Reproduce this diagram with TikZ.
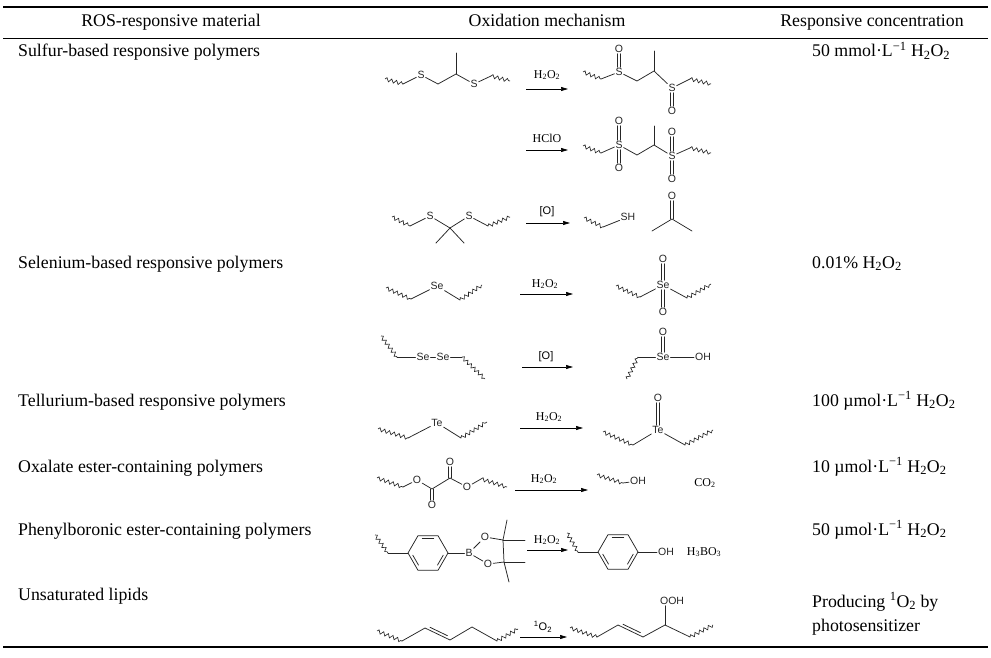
\documentclass[tikz,border=0pt]{standalone}
\usepackage{fontspec}
\setmainfont{Liberation Serif}
\newfontfamily\chemsf{Liberation Sans}
\usetikzlibrary{decorations.pathmorphing,arrows.meta,calc}
\newcommand\dblv[2]{\draw[bond] ([xshift=-1.3pt]#1) -- ([xshift=-1.3pt]#2); \draw[bond] ([xshift=1.3pt]#1) -- ([xshift=1.3pt]#2);}
\tikzset{
 tabtext/.style={font=\fontsize{17.8}{21}\selectfont, inner sep=0pt, anchor=base west},
 headtext/.style={font=\fontsize{17.8}{21}\selectfont, inner sep=0pt, anchor=base},
 bond/.style={line width=0.75pt, line cap=round, line join=round, black!85},
 wavy/.style={line width=0.65pt, black!85, decorate, decoration={snake, segment length=5pt, amplitude=1.8pt}},
 atom/.style={font=\chemsf\fontsize{10.5}{10.5}\selectfont, inner sep=0.9pt, text=black!85},
 reag/.style={font=\fontsize{12}{12}\selectfont, inner sep=0pt},
 reagsf/.style={font=\chemsf\fontsize{11}{11}\selectfont, inner sep=0pt},
 rxn/.style={line width=0.7pt, -{Triangle[length=7pt,width=4pt]}},
 thickrule/.style={line width=1.8pt},
 thinrule/.style={line width=0.9pt}
}
\begin{document}
\begin{tikzpicture}[x=1pt,y=-1pt]
\useasboundingbox[fill=white] (0,0) rectangle (991,658);
% rules
\coordinate (tl) at (3,7); \coordinate (tr) at (988,7);
\coordinate (ml) at (3,38); \coordinate (mr) at (988,38);
\coordinate (bl) at (3,647); \coordinate (br) at (988,647);
\draw[thickrule] (tl) -- (tr);
\draw[thinrule] (ml) -- (mr);
\draw[thickrule] (bl) -- (br);
% header
\node[headtext] (h1) at (171,27) {ROS-responsive material};
\node[headtext] (h2) at (547,27) {Oxidation mechanism};
\node[headtext] (h3) at (872,27) {Responsive concentration};
% left column
\node[tabtext] (m1) at (18,57) {Sulfur-based responsive polymers};
\node[tabtext] (m2) at (18,268) {Selenium-based responsive polymers};
\node[tabtext] (m3) at (18,406) {Tellurium-based responsive polymers};
\node[tabtext] (m4) at (18,472) {Oxalate ester-containing polymers};
\node[tabtext] (m5) at (18,535) {Phenylboronic ester-containing polymers};
\node[tabtext] (m6) at (18,600) {Unsaturated lipids};
% right column
\node[tabtext] (c1) at (812,57) {50 mmol·L\textsuperscript{−1} H\textsubscript{2}O\textsubscript{2}};
\node[tabtext] (c2) at (812,268) {0.01\% H\textsubscript{2}O\textsubscript{2}};
\node[tabtext] (c3) at (812,406) {100 µmol·L\textsuperscript{−1} H\textsubscript{2}O\textsubscript{2}};
\node[tabtext] (c4) at (812,472) {10 µmol·L\textsuperscript{−1} H\textsubscript{2}O\textsubscript{2}};
\node[tabtext] (c5) at (812,535) {50 µmol·L\textsuperscript{−1} H\textsubscript{2}O\textsubscript{2}};
\node[tabtext] (c6) at (812,607) {Producing \textsuperscript{1}O\textsubscript{2} by};
\node[tabtext] (c7) at (812,631) {photosensitizer};

% ===== reaction arrows and reagents =====
\coordinate (a1s) at (526,89);  \coordinate (a1e) at (568,89);
\coordinate (a2s) at (526,150); \coordinate (a2e) at (568,150);
\coordinate (a3s) at (526,223); \coordinate (a3e) at (570,223);
\coordinate (a4s) at (520,294); \coordinate (a4e) at (573,294);
\coordinate (a5s) at (522,367); \coordinate (a5e) at (573,367);
\coordinate (a6s) at (520,428); \coordinate (a6e) at (583,428);
\coordinate (a7s) at (515,490); \coordinate (a7e) at (588,490);
\coordinate (a8s) at (527,550); \coordinate (a8e) at (568,550);
\coordinate (a9s) at (520,637); \coordinate (a9e) at (567,637);
\foreach \i in {1,...,9} {\draw[rxn] (a\i s) -- (a\i e);}
\node[reag] (g1) at (547,75) {H\textsubscript{2}O\textsubscript{2}};
\node[reag] (g2) at (547,138) {HClO};
\node[reagsf] (g3) at (547,212) {[O]};
\node[reag] (g4) at (545,284) {H\textsubscript{2}O\textsubscript{2}};
\node[reagsf] (g5) at (546,357) {[O]};
\node[reag] (g6) at (549,417) {H\textsubscript{2}O\textsubscript{2}};
\node[reag] (g7) at (544,479) {H\textsubscript{2}O\textsubscript{2}};
\node[reag] (g8) at (547,540) {H\textsubscript{2}O\textsubscript{2}};
\node[reagsf] (g9) at (543,627) {\textsuperscript{1}O\textsubscript{2}};

% ===== Row 1: sulfide -> sulfoxide =====
\coordinate (r1w) at (385,79); \coordinate (r1a) at (403,84);
\node[atom] (r1s1) at (421,75) {S};
\coordinate (r1b) at (438,84); \coordinate (r1c) at (456,74); \coordinate (r1m) at (456,53);
\node[atom] (r1s2) at (474,84) {S};
\coordinate (r1d) at (491,76); \coordinate (r1e) at (510,81);
\draw[wavy] (r1w) -- (r1a);
\draw[bond] (r1a) -- (r1s1); \draw[bond] (r1s1) -- (r1b) -- (r1c) -- (r1s2); \draw[bond] (r1s2) -- (r1d);
\draw[bond] (r1c) -- (r1m);
\draw[wavy] (r1d) -- (r1e);

\coordinate (p1w) at (583,72); \coordinate (p1a) at (601,79);
\node[atom] (p1s1) at (619,72) {S};
\node[atom] (p1o1) at (619,49) {O};
\coordinate (p1b) at (637,81); \coordinate (p1c) at (654,71); \coordinate (p1m) at (654,51);
\node[atom] (p1s2) at (672,88) {S};
\node[atom] (p1o2) at (672,111) {O};
\coordinate (p1d) at (690,79); \coordinate (p1e) at (711,84);
\draw[wavy] (p1w) -- (p1a);
\draw[bond] (p1a) -- (p1s1); \draw[bond] (p1s1) -- (p1b) -- (p1c) -- (p1s2); \draw[bond] (p1s2) -- (p1d);
\draw[bond] (p1c) -- (p1m);
\draw[wavy] (p1d) -- (p1e);
\dblv{p1s1.north}{p1o1.south}
\dblv{p1s2.south}{p1o2.north}

% ===== Row 2: sulfone =====
\coordinate (p2w) at (583,146); \coordinate (p2a) at (601,153);
\node[atom] (p2s1) at (619,145) {S};
\node[atom] (p2o1) at (619,121) {O};
\node[atom] (p2o2) at (619,168) {O};
\coordinate (p2b) at (637,155); \coordinate (p2c) at (654,145); \coordinate (p2m) at (654,126);
\node[atom] (p2s2) at (672,156) {S};
\node[atom] (p2o3) at (672,132) {O};
\node[atom] (p2o4) at (672,179) {O};
\coordinate (p2d) at (690,148); \coordinate (p2e) at (711,153);
\draw[wavy] (p2w) -- (p2a);
\draw[bond] (p2a) -- (p2s1); \draw[bond] (p2s1) -- (p2b) -- (p2c) -- (p2s2); \draw[bond] (p2s2) -- (p2d);
\draw[bond] (p2c) -- (p2m);
\draw[wavy] (p2d) -- (p2e);
\dblv{p2s1.north}{p2o1.south}
\dblv{p2s1.south}{p2o2.north}
\dblv{p2s2.north}{p2o3.south}
\dblv{p2s2.south}{p2o4.north}

% ===== Row 3: thioketal =====
\coordinate (r3w) at (392,217); \coordinate (r3a) at (410,226);
\node[atom] (r3s1) at (430,216) {S};
\coordinate (r3q) at (450,228); \coordinate (r3m1) at (436,243); \coordinate (r3m2) at (464,243);
\node[atom] (r3s2) at (469,216) {S};
\coordinate (r3b) at (488,226); \coordinate (r3e) at (510,217);
\draw[wavy] (r3w) -- (r3a);
\draw[bond] (r3a) -- (r3s1); \draw[bond] (r3s1) -- (r3q) -- (r3s2); \draw[bond] (r3s2) -- (r3b);
\draw[bond] (r3m1) -- (r3q) -- (r3m2);
\draw[wavy] (r3b) -- (r3e);

\coordinate (p3w) at (584,218); \coordinate (p3a) at (603,227);
\node[atom] (p3sh) at (628,217) {SH};
\draw[wavy] (p3w) -- (p3a);
\draw[bond] (p3a) -- (p3sh);
\node[atom] (p3o) at (672,196) {O};
\coordinate (p3c) at (672,219); \coordinate (p3m1) at (652,231); \coordinate (p3m2) at (692,231);
\draw[bond] (p3m1) -- (p3c) -- (p3m2);
\dblv{p3c}{p3o.south}

% ===== Row 4: selenide =====
\coordinate (r4w) at (386,288); \coordinate (r4a) at (411,299);
\node[atom] (r4se) at (437,286) {Se};
\coordinate (r4b) at (460,300); \coordinate (r4e) at (482,285);
\draw[wavy] (r4w) -- (r4a);
\draw[bond] (r4a) -- (r4se); \draw[bond] (r4se) -- (r4b);
\draw[wavy] (r4b) -- (r4e);

\coordinate (p4w) at (616,286); \coordinate (p4a) at (640,297);
\node[atom] (p4se) at (663,285) {Se};
\node[atom] (p4o1) at (663,259) {O};
\node[atom] (p4o2) at (663,312) {O};
\coordinate (p4b) at (687,298); \coordinate (p4e) at (711,284);
\draw[wavy] (p4w) -- (p4a);
\draw[bond] (p4a) -- (p4se); \draw[bond] (p4se) -- (p4b);
\draw[wavy] (p4b) -- (p4e);
\dblv{p4se.north}{p4o1.south}
\dblv{p4se.south}{p4o2.north}

% ===== Row 5: diselenide =====
\coordinate (r5w) at (381,336); \coordinate (r5a) at (397,357);
\node[atom] (r5se1) at (423,357) {Se};
\node[atom] (r5se2) at (443,357) {Se};
\coordinate (r5b) at (462,357); \coordinate (r5e) at (485,379);
\draw[wavy] (r5w) -- (r5a);
\draw[bond] (r5a) -- (r5se1); \draw[bond] (r5se1) -- (r5se2); \draw[bond] (r5se2) -- (r5b);
\draw[wavy] (r5b) -- (r5e);

\coordinate (p5w) at (627,379); \coordinate (p5a) at (638,357);
\node[atom] (p5se) at (663,357) {Se};
\node[atom] (p5o) at (663,332) {O};
\node[atom] (p5oh) at (703,357) {OH};
\draw[wavy] (p5w) -- (p5a);
\draw[bond] (p5a) -- (p5se); \draw[bond] (p5se) -- (p5oh);
\dblv{p5se.north}{p5o.south}

% ===== Row 6: telluride =====
\coordinate (r6w) at (378,429); \coordinate (r6a) at (408,438);
\node[atom] (r6te) at (437,423) {Te};
\coordinate (r6b) at (461,438); \coordinate (r6e) at (487,422);
\draw[wavy] (r6w) -- (r6a);
\draw[bond] (r6a) -- (r6te); \draw[bond] (r6te) -- (r6b);
\draw[wavy] (r6b) -- (r6e);

\coordinate (p6w) at (603,432); \coordinate (p6a) at (633,445);
\node[atom] (p6te) at (658,430) {Te};
\node[atom] (p6o) at (658,398) {O};
\coordinate (p6b) at (685,445); \coordinate (p6e) at (713,430);
\draw[wavy] (p6w) -- (p6a);
\draw[bond] (p6a) -- (p6te); \draw[bond] (p6te) -- (p6b);
\draw[wavy] (p6b) -- (p6e);
\dblv{p6te.north}{p6o.south}

% ===== Row 7: oxalate ester =====
\coordinate (r7w) at (377,478); \coordinate (r7a) at (403,487);
\node[atom] (r7o1) at (417,480) {O};
\coordinate (r7c1) at (432,489);
\node[atom] (r7ob) at (432,505) {O};
\coordinate (r7c2) at (450,478);
\node[atom] (r7ot) at (450,462) {O};
\node[atom] (r7o2) at (467,487) {O};
\coordinate (r7b) at (481,479); \coordinate (r7e) at (507,487);
\draw[wavy] (r7w) -- (r7a);
\draw[bond] (r7a) -- (r7o1); \draw[bond] (r7o1) -- (r7c1) -- (r7c2) -- (r7o2); \draw[bond] (r7o2) -- (r7b);
\draw[wavy] (r7b) -- (r7e);
\dblv{r7c1}{r7ob.north}
\dblv{r7c2}{r7ot.south}

\coordinate (p7w) at (597,475); \coordinate (p7a) at (623,483);
\node[atom] (p7oh) at (638,481) {OH};
\draw[wavy] (p7w) -- (p7a);
\draw[bond] (p7a) -- (p7oh);
\node[reag] (p7co2) at (705,483) {CO\textsubscript{2}};

% ===== Row 8: phenylboronic ester =====
\coordinate (r8w) at (375,535); \coordinate (r8a) at (388,553);
\begin{scope}[shift={(428,553)}]
 \coordinate (r8L) at (180:20); \coordinate (r8v2) at (120:20); \coordinate (r8v3) at (60:20);
 \coordinate (r8R) at (0:20); \coordinate (r8v5) at (-60:20); \coordinate (r8v6) at (-120:20);
 \draw[bond] (r8L) -- (r8v2) -- (r8v3) -- (r8R) -- (r8v5) -- (r8v6) -- cycle;
 \draw[bond] (-112:15.4) -- (-68:15.4);
 \draw[bond] (8:15.4) -- (52:15.4);
 \draw[bond] (128:15.4) -- (172:15.4);
\end{scope}
\node[atom] (r8b) at (469,553) {B};
\node[atom] (r8ot) at (485,537) {O};
\node[atom] (r8ob) at (488,564) {O};
\coordinate (r8ct) at (503,540); \coordinate (r8cb) at (504,562);
\coordinate (r8m1) at (507,520); \coordinate (r8m2) at (525,540);
\coordinate (r8m3) at (525,562); \coordinate (r8m4) at (509,582);
\draw[wavy] (r8w) -- (r8a);
\draw[bond] (r8a) -- (r8L);
\draw[bond] (r8R) -- (r8b);
\draw[bond] (r8b) -- (r8ot); \draw[bond] (r8ot) -- (r8ct);
\draw[bond] (r8b) -- (r8ob); \draw[bond] (r8ob) -- (r8cb);
\draw[bond] (r8m1) -- (r8ct) -- (r8cb) -- (r8m4);
\draw[bond] (r8ct) -- (r8m2);
\draw[bond] (r8cb) -- (r8m3);

\coordinate (p8w) at (567,533); \coordinate (p8a) at (578,552);
\begin{scope}[shift={(618,552)}]
 \coordinate (p8L) at (180:20); \coordinate (p8v2) at (120:20); \coordinate (p8v3) at (60:20);
 \coordinate (p8R) at (0:20); \coordinate (p8v5) at (-60:20); \coordinate (p8v6) at (-120:20);
 \draw[bond] (p8L) -- (p8v2) -- (p8v3) -- (p8R) -- (p8v5) -- (p8v6) -- cycle;
 \draw[bond] (-112:15.4) -- (-68:15.4);
 \draw[bond] (8:15.4) -- (52:15.4);
 \draw[bond] (128:15.4) -- (172:15.4);
\end{scope}
\node[atom] (p8oh) at (666,552) {OH};
\draw[wavy] (p8w) -- (p8a);
\draw[bond] (p8a) -- (p8L);
\draw[bond] (p8R) -- (p8oh);
\node[reag] (p8h) at (704,552) {H\textsubscript{3}BO\textsubscript{3}};

% ===== Row 9: unsaturated lipid =====
\coordinate (r9w) at (377,631); \coordinate (r9a) at (402,641);
\coordinate (r9b) at (425,628); \coordinate (r9c) at (450,640);
\coordinate (r9d) at (472,627); \coordinate (r9f) at (497,641);
\coordinate (r9e) at (518,629);
\draw[wavy] (r9w) -- (r9a);
\draw[bond] (r9a) -- (r9b) -- (r9c) -- (r9d) -- (r9f);
\draw[bond] ($(r9b)!0.15!(r9c)!2.8pt!90:(r9c)$) -- ($(r9c)!0.15!(r9b)!2.8pt!-90:(r9b)$);
\draw[wavy] (r9f) -- (r9e);

\coordinate (p9w) at (570,628); \coordinate (p9a) at (597,637);
\coordinate (p9b) at (618,625); \coordinate (p9c) at (643,637);
\coordinate (p9d) at (665,625); \coordinate (p9f) at (690,637);
\coordinate (p9e) at (713,625);
\node[atom, anchor=west] (p9ooh) at (659,601) {OOH};
\draw[wavy] (p9w) -- (p9a);
\draw[bond] (p9a) -- (p9b) -- (p9c) -- (p9d) -- (p9f);
\draw[bond] ($(p9b)!0.15!(p9c)!2.8pt!90:(p9c)$) -- ($(p9c)!0.15!(p9b)!2.8pt!-90:(p9b)$);
\draw[bond] (p9d) -- (p9d |- p9ooh.south);
\draw[wavy] (p9f) -- (p9e);
\end{tikzpicture}
\end{document}
